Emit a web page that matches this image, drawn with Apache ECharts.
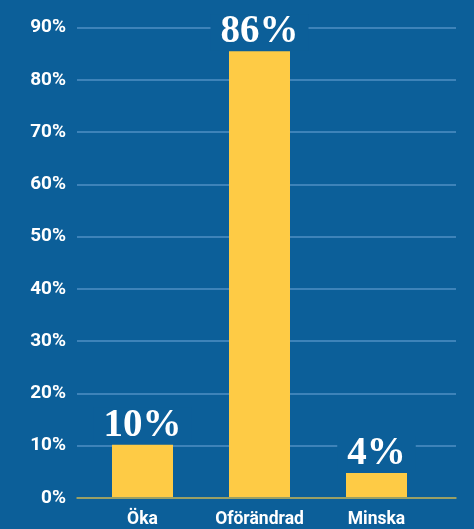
<!DOCTYPE html>
<html>
<head>
<meta charset="utf-8">
<script src="https://cdn.jsdelivr.net/npm/echarts@6/dist/echarts.min.js"></script>
<style>
html,body{margin:0;padding:0;background:#0c5f99;}
#c{width:474px;height:529px;}
</style>
</head>
<body>
<div id="c"></div>
<script>
const categories = ['Öka', 'Oförändrad', 'Minska'];
const values = [10, 85.5, 4.6];
const barLabels = ['10%', '86%', '4%'];
const yTicks = [0, 10, 20, 30, 40, 50, 60, 70, 80, 90];

const BG = '#0c5f99';
const chart = echarts.init(document.getElementById('c'));
chart.setOption({
  backgroundColor: BG,
  animation: false,
  grid: [
    {left: 77, right: 18, top: 27.7, bottom: 31},
    {left: 84, right: 39, top: 27.7, bottom: 31}
  ],
  xAxis: [
    {gridIndex: 0, type: 'category', data: categories, show: true,
     axisLine: {show: true, lineStyle: {color: '#b9aa4a', width: 1.5}},
     axisTick: {show: false}, axisLabel: {show: false}},
    {gridIndex: 1, type: 'category', data: categories,
     axisLine: {show: false}, axisTick: {show: false},
     axisLabel: {color: '#ffffff', fontFamily: 'Roboto', fontWeight: 'bold', fontSize: 17.5, margin: 14}}
  ],
  yAxis: [
    {gridIndex: 0, type: 'value', min: yTicks[0], max: yTicks[yTicks.length - 1], interval: 10,
     axisLine: {show: false}, axisTick: {show: false},
     axisLabel: {color: '#ffffff', fontFamily: 'Roboto', fontWeight: 'bold', fontSize: 19, margin: 11,
       formatter: v => v + '%'},
     splitLine: {show: true, lineStyle: {color: '#4f8fc4', width: 1.5}}},
    {gridIndex: 1, type: 'value', min: yTicks[0], max: yTicks[yTicks.length - 1], interval: 10,
     show: false, splitLine: {show: false}}
  ],
  series: [{
    type: 'bar', xAxisIndex: 1, yAxisIndex: 1,
    data: values, barWidth: 61,
    itemStyle: {color: '#fecb45'},
    label: {
      show: true, position: 'top', distance: 1,
      formatter: p => barLabels[p.dataIndex],
      color: '#ffffff', fontFamily: 'Liberation Serif', fontWeight: 'bold', fontSize: 39,
      backgroundColor: BG, padding: [0, 10, 0, 10], lineHeight: 36
    }
  }]
});
</script>
</body>
</html>
